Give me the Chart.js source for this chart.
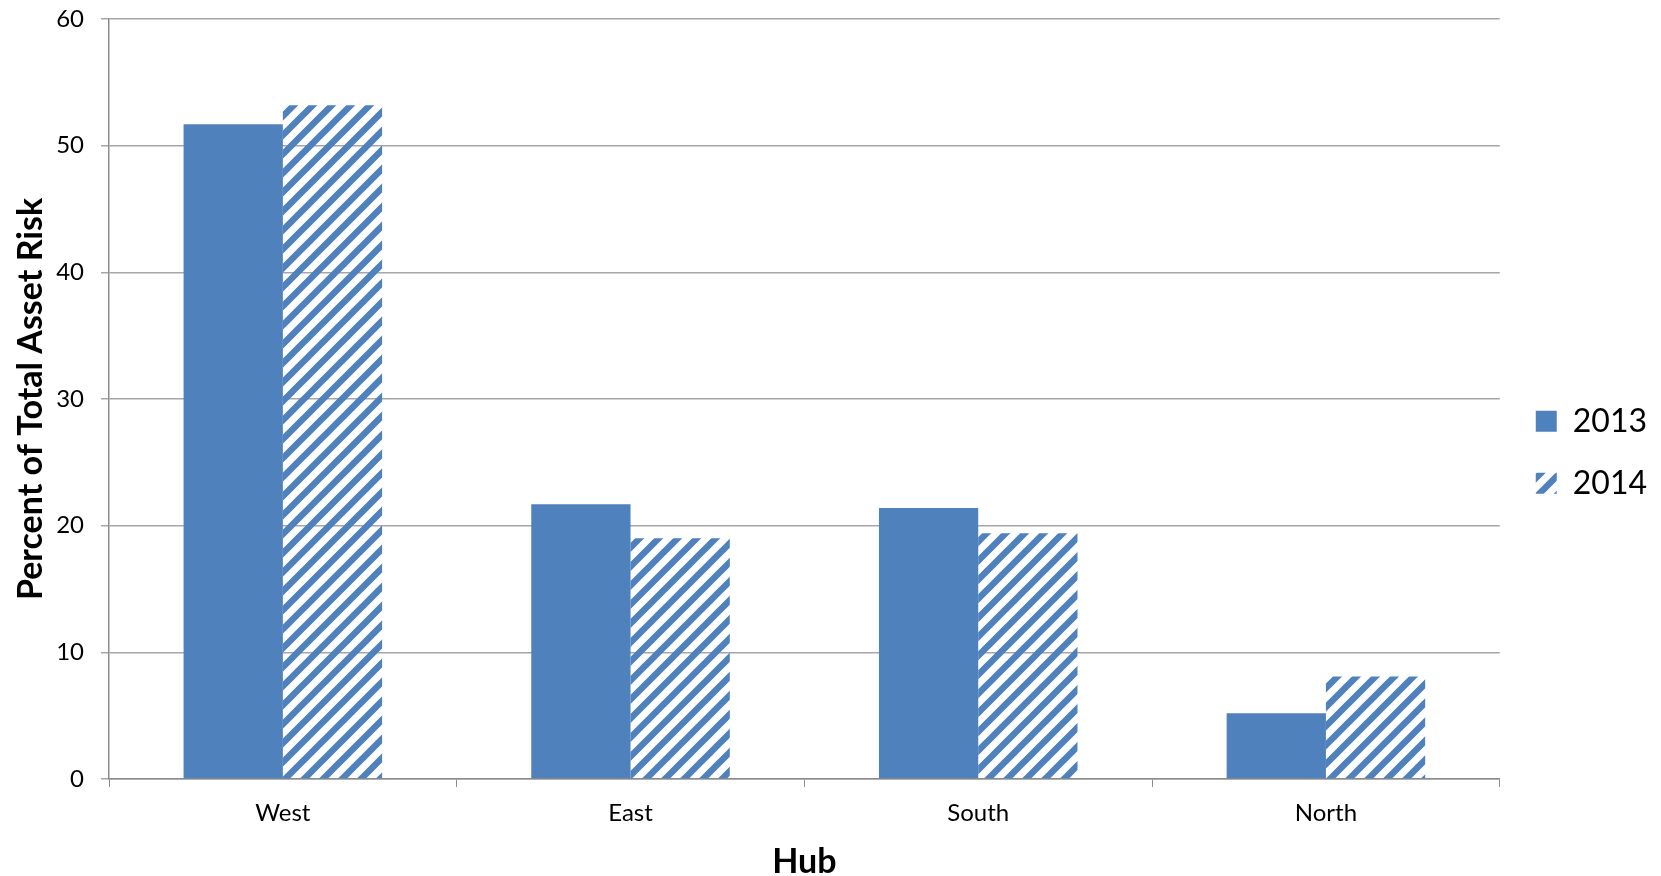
<!DOCTYPE html>
<html>
<head>
<meta charset="utf-8">
<script src="https://cdn.jsdelivr.net/npm/chart.js@4/dist/chart.umd.min.js"></script>
<style>
    body { margin: 0; background: #fff; }
    #caixa { width: 1661px; height: 876px; }
</style>
</head>
<body>
<div id="caixa"><canvas id="myChart" width="1661" height="876"></canvas></div>
<script>
var hubs = ['West', 'East', 'South', 'North'];
var valores2013 = [51.7, 21.7, 21.4, 5.2];
var valores2014 = [53.2, 19.0, 19.4, 8.1];
var ticksY = [0, 10, 20, 30, 40, 50, 60];

var azul = '#4F81BD';
var fonte = 'Lato, "Open Sans", sans-serif';

// listras diagonais da serie 2014
function criarListras() {
    var c = document.createElement('canvas');
    c.width = 19;
    c.height = 19;
    var g = c.getContext('2d');
    g.strokeStyle = azul;
    g.lineWidth = 6.5;
    g.beginPath();
    g.moveTo(0, 19); g.lineTo(19, 0);
    g.moveTo(-5, 5); g.lineTo(5, -5);
    g.moveTo(14, 24); g.lineTo(24, 14);
    g.stroke();
    return g.createPattern(c, 'repeat');
}

const ctx = document.getElementById('myChart');
new Chart(ctx, {
    type: 'bar',
    data: {
        labels: hubs,
        datasets: [{
            label: '2013',
            data: valores2013,
            backgroundColor: azul,
            borderWidth: 0
        }, {
            label: '2014',
            data: valores2014,
            backgroundColor: criarListras(),
            borderWidth: 0
        }]
    },
    options: {
        responsive: false,
        animation: false,
        layout: { padding: { top: 0, right: 4, left: 0, bottom: 0 } },
        datasets: {
            bar: { barPercentage: 1, categoryPercentage: 0.571 }
        },
        plugins: {
            tooltip: { enabled: false },
            legend: {
                position: 'right',
                title: { display: true, text: ' ', font: { size: 12 }, padding: 7 },
                labels: {
                    boxWidth: 21,
                    boxHeight: 21,
                    padding: 30,
                    color: '#000',
                    font: { family: fonte, size: 32 }
                }
            }
        },
        scales: {
            x: {
                grid: {
                    offset: true,
                    drawOnChartArea: false,
                    drawTicks: true,
                    tickLength: 8,
                    color: '#8c8c8c'
                },
                border: { color: '#8c8c8c', width: 1.5 },
                ticks: {
                    color: '#000',
                    padding: 12,
                    font: { family: fonte, size: 24 }
                },
                title: {
                    display: true,
                    text: 'Hub',
                    color: '#000',
                    padding: { top: 9, bottom: 0 },
                    font: { family: fonte, size: 34, weight: 'bold', lineHeight: 0.8 }
                }
            },
            y: {
                min: 0,
                max: 60,
                afterBuildTicks: function (eixo) {
                    eixo.ticks = ticksY.map(function (v) { return { value: v }; });
                },
                afterFit: function (eixo) {
                    eixo.width = 109;
                    eixo.paddingTop = 19;
                },
                grid: {
                    color: '#a6a6a6',
                    lineWidth: 1.5,
                    tickLength: 8
                },
                border: { color: '#8c8c8c', width: 1.5 },
                ticks: {
                    color: '#000',
                    padding: 17,
                    font: { family: fonte, size: 24, lineHeight: 1 }
                },
                title: {
                    display: true,
                    text: 'Percent of Total Asset Risk',
                    color: '#000',
                    padding: { top: 11, bottom: 5 },
                    font: { family: fonte, size: 34, weight: 'bold' }
                }
            },
            // eixo vazio so para abrir espaco entre o grafico e a legenda
            folga: {
                position: 'right',
                display: true,
                grid: { display: false },
                border: { display: false },
                ticks: { display: false },
                afterFit: function (eixo) {
                    eixo.width = 6;
                }
            }
        }
    }
});
</script>
</body>
</html>
